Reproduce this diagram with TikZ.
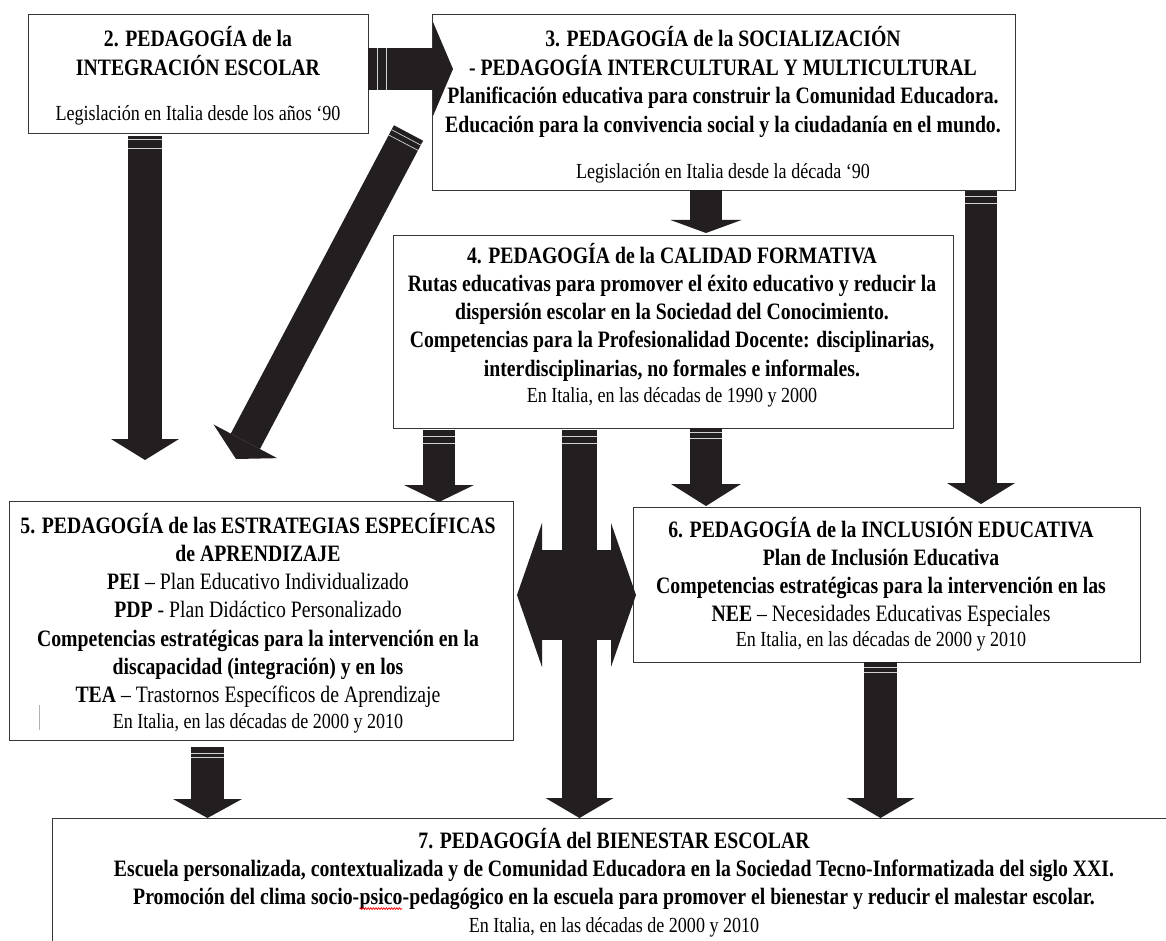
\documentclass[tikz,border=0pt]{standalone}
\usepackage{fontspec}
\setmainfont{Liberation Serif}[FakeStretch=0.84]
\usetikzlibrary{arrows.meta,decorations.pathmorphing}
\definecolor{arrowc}{RGB}{35,31,32}
\definecolor{boxc}{RGB}{55,55,55}
\newcommand{\rg}{\fontsize{21.5}{28.3}\selectfont\mdseries}
\newcommand{\squig}[1]{\tikz[baseline=(sq.base),x=1pt,y=1pt]{\node[inner sep=0pt,outer sep=0pt,anchor=center](sq){#1};\draw[red,line width=0.7pt,decorate,decoration={snake,amplitude=0.9pt,segment length=2.6pt}]([yshift=-4pt]sq.base west)--([yshift=-4pt]sq.base east);}}
\begin{document}
\begin{tikzpicture}[x=1pt,y=-1pt,
  box/.style={draw=boxc,line width=1.3pt,fill=white,inner sep=0pt,anchor=north west},
  txt/.style={anchor=base,inner sep=0pt,font=\fontsize{23.5}{28.3}\selectfont\bfseries},
  barrow/.style n args={3}{draw=arrowc,line width=#1,-{Triangle[width=#2,length=#3,line width=0pt]}},
  dbarrow/.style n args={3}{draw=arrowc,line width=#1,{Triangle[width=#2,length=#3,line width=0pt]}-{Triangle[width=#2,length=#3,line width=0pt]}},
  stripe/.style={draw=gray!35,line width=0.7pt}]
\useasboundingbox (0,0) rectangle (1166,941);
\clip (0,0) rectangle (1166,941);
\fill[white] (0,0) rectangle (1166,941);

% boxes
\node[box,minimum width=340pt,minimum height=119pt] (b2) at (28,14) {};
\node[box,minimum width=583pt,minimum height=176pt] (b3) at (432,14) {};
\node[box,minimum width=560pt,minimum height=193pt] (b4) at (393,235) {};
\node[box,minimum width=504pt,minimum height=239pt] (b5) at (9,501) {};
\node[box,minimum width=507pt,minimum height=155pt] (b6) at (633,507) {};
\node[box,minimum width=1122pt,minimum height=160pt] (b7) at (52,818) {};

% texts
\node[txt] (t2) at (198,47) {\begin{tabular}[t]{@{}c@{}}2. PEDAGOGÍA de la\\ INTEGRACIÓN ESCOLAR\\[16.4pt] {\rg Legislación en Italia desde los años ‘90}\end{tabular}};
\node[txt] (t3) at (723,47) {\begin{tabular}[t]{@{}c@{}}3. PEDAGOGÍA de la SOCIALIZACIÓN\\ - PEDAGOGÍA INTERCULTURAL Y MULTICULTURAL\\ Planificación educativa para construir la Comunidad Educadora.\\ Educación para la convivencia social y la ciudadanía en el mundo.\\[17.7pt] {\rg Legislación en Italia desde la década ‘90}\end{tabular}};
\node[txt] (t4) at (672,263) {\begin{tabular}[t]{@{}c@{}}4. PEDAGOGÍA de la CALIDAD FORMATIVA\\ Rutas educativas para promover el éxito educativo y reducir la\\ dispersión escolar en la Sociedad del Conocimiento.\\ Competencias para la Profesionalidad Docente: disciplinarias,\\ interdisciplinarias, no formales e informales.\\[-2.5pt] {\rg En Italia, en las décadas de 1990 y 2000}\end{tabular}};
\node[txt] (t5) at (258,533) {\begin{tabular}[t]{@{}c@{}}5. PEDAGOGÍA de las ESTRATEGIAS ESPECÍFICAS\\ de APRENDIZAJE\\ PEI {\mdseries – Plan Educativo Individualizado}\\ PDP {\mdseries - Plan Didáctico Personalizado}\\ Competencias estratégicas para la intervención en la\\ discapacidad (integración) y en los\\ TEA {\mdseries – Trastornos Específicos de Aprendizaje}\\[-3.1pt] {\rg En Italia, en las décadas de 2000 y 2010}\end{tabular}};
\node[txt] (t6) at (881,537) {\begin{tabular}[t]{@{}c@{}}6. PEDAGOGÍA de la INCLUSIÓN EDUCATIVA\\ Plan de Inclusión Educativa\\ Competencias estratégicas para la intervención en las\\ NEE {\mdseries – Necesidades Educativas Especiales}\\[-4.2pt] {\rg En Italia, en las décadas de 2000 y 2010}\end{tabular}};
\node[txt] (t7) at (614,848) {\begin{tabular}[t]{@{}c@{}}7. PEDAGOGÍA del BIENESTAR ESCOLAR\\ Escuela personalizada, contextualizada y de Comunidad Educadora en la Sociedad Tecno-Informatizada del siglo XXI.\\ Promoción del clima socio-\squig{psico}-pedagógico en la escuela para promover el bienestar y reducir el malestar escolar.\\ {\rg En Italia, en las décadas de 2000 y 2010}\end{tabular}};

% stray mark in box 5
\draw[gray!60,line width=0.8pt] (39,705) -- (39,730);

% arrow end points
\coordinate (a1s) at (368,69);   \coordinate (a1e) at (453,69);
\coordinate (a2s) at (145,136);  \coordinate (a2e) at (145,460);
\coordinate (a3s) at (408.5,133);\coordinate (a3e) at (236,459);
\coordinate (a4s) at (706,190);  \coordinate (a4e) at (706,233);
\coordinate (a5s) at (981,191);  \coordinate (a5e) at (981,504);
\coordinate (a6s) at (439,430);  \coordinate (a6e) at (439,502);
\coordinate (a7s) at (579.5,430);\coordinate (a7e) at (579.5,818);
\coordinate (a8s) at (706,428);  \coordinate (a8e) at (706,506);
\coordinate (a9s) at (880.5,662);\coordinate (a9e) at (880.5,818);
\coordinate (a10s) at (207.5,747);\coordinate (a10e) at (207.5,818);
\coordinate (a11s) at (517,595); \coordinate (a11e) at (636,595);

% arrows
\draw[barrow={42pt}{94pt}{20pt}] (a1s) -- (a1e);
\draw[barrow={34pt}{68pt}{21pt}] (a2s) -- (a2e);
\draw[barrow={33pt}{72pt}{20pt}] (a3s) -- (a3e);
\draw[barrow={32pt}{71pt}{13pt}] (a4s) -- (a4e);
\draw[barrow={32pt}{68pt}{21pt}] (a5s) -- (a5e);
\draw[barrow={32pt}{70pt}{17pt}] (a6s) -- (a6e);
\draw[dbarrow={90pt}{144pt}{25pt}] (a11s) -- (a11e);
\draw[barrow={35pt}{68pt}{20pt}] (a7s) -- (a7e);
\draw[barrow={32pt}{70pt}{22pt}] (a8s) -- (a8e);
\draw[barrow={33pt}{68pt}{20pt}] (a9s) -- (a9e);
\draw[barrow={33pt}{69pt}{19pt}] (a10s) -- (a10e);

% light stripes near arrow tails
\draw[stripe] (377,48) -- (377,90) (386,48) -- (386,90);
\draw[stripe] (128,139) -- (162,139) (128,148) -- (162,148);
\draw[stripe] (391.6,129.7) -- (420.8,145.1) (388.8,135.0) -- (418.0,150.4);
\draw[stripe] (965,196) -- (997,196) (965,203) -- (997,203);
\draw[stripe] (423,436) -- (455,436) (423,443) -- (455,443);
\draw[stripe] (562,436) -- (597,436) (562,443) -- (597,443);
\draw[stripe] (690,432) -- (722,432) (690,438) -- (722,438);
\draw[stripe] (864,667) -- (897,667) (864,672) -- (897,672);
\draw[stripe] (191,753) -- (224,753) (191,757) -- (224,757);
\end{tikzpicture}
\end{document}
